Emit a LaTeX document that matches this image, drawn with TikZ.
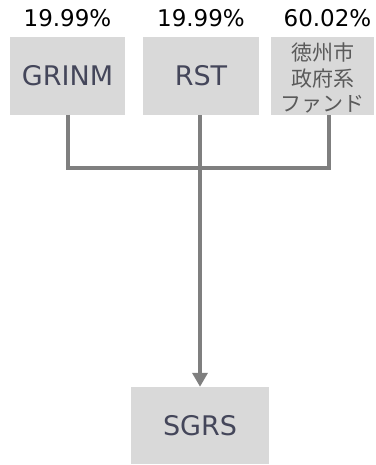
\documentclass[tikz,border=0pt]{standalone}
\usepackage{fontspec}
\setmainfont{DejaVu Sans}
\newfontfamily\jpfont{Noto Sans CJK JP}
\usetikzlibrary{arrows.meta}
\definecolor{boxfill}{HTML}{D9D9D9}
\definecolor{linegray}{HTML}{7F7F7F}
\definecolor{boxtext}{HTML}{44465A}
\definecolor{jptext}{HTML}{5A5A5A}
\begin{document}
\begin{tikzpicture}[x=1pt,y=-1pt,
  ent/.style={fill=boxfill,draw=none,inner sep=0pt,minimum height=78pt,text=boxtext,font=\fontsize{27}{31}\selectfont},
  pct/.style={inner sep=0pt,text=black,font=\fontsize{23}{27}\selectfont},
  conn/.style={draw=linegray,line width=4pt,line join=miter}]
\useasboundingbox (0,0) rectangle (375,465);
\node[ent,minimum width=115pt] (g) at (67.5,76) {GRINM};
\node[ent,minimum width=116pt] (r) at (201,76) {RST};
\node[ent,minimum width=103pt] (f) at (322.5,76) {};
\node[inner sep=0pt,text=jptext,align=center,font=\jpfont\fontsize{21}{25.5}\selectfont] (ft) at (322.5,78) {徳州市\\政府系\\ファンド};
\node[ent,minimum width=138pt,minimum height=77pt] (s) at (200,425.5) {SGRS};
\node[pct] (pg) at (67.5,18) {19.99\%};
\node[pct] (pr) at (201,18) {19.99\%};
\node[pct] (pf) at (327.5,18) {60.02\%};
\coordinate (j) at (200,168);
\coordinate (fx) at (329,115);
\coordinate (gx) at (68,115);
\draw[conn] (gx) |- (j) -| (fx);
\draw[conn,-{Triangle[width=15pt,length=14pt]}] (r.south -| j) -- (s.north -| j);
\end{tikzpicture}
\end{document}
